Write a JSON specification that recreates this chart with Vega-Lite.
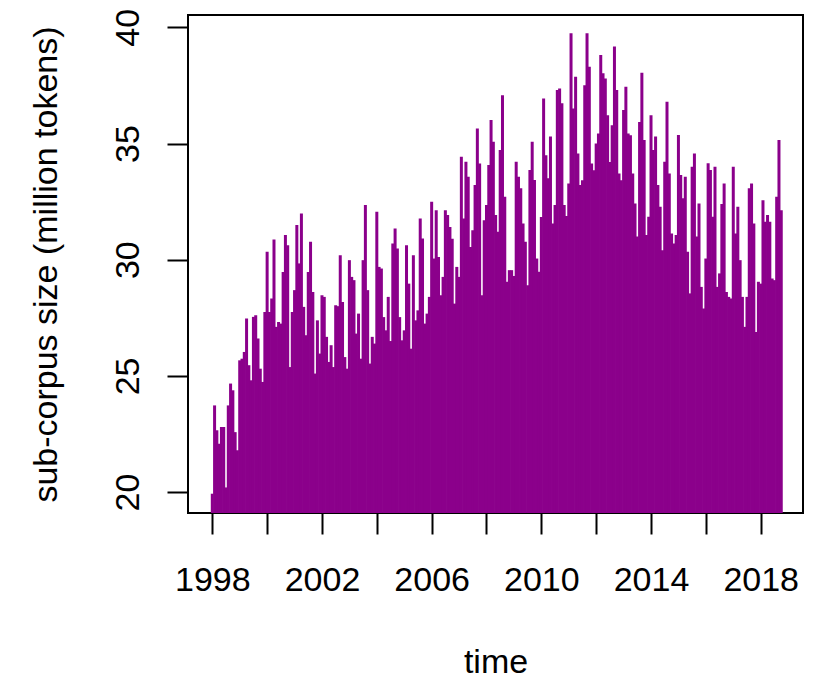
{
  "$schema": "https://vega.github.io/schema/vega-lite/v6.json",
  "width": 615,
  "height": 498,
  "autosize": {"type": "none"},
  "padding": {"left": 188, "top": 15, "right": 22, "bottom": 165},
  "background": "white",
  "config": {
    "font": "Liberation Sans",
    "view": {"stroke": "black", "strokeWidth": 2}
  },
  "data": {
    "values": [
      {"time": 1998.0, "size": 19.93}, {"time": 1998.0833, "size": 23.73}, {"time": 1998.1667, "size": 22.66}, {"time": 1998.25, "size": 22.08},
      {"time": 1998.3333, "size": 22.8}, {"time": 1998.4167, "size": 22.8}, {"time": 1998.5, "size": 20.2}, {"time": 1998.5833, "size": 23.73},
      {"time": 1998.6667, "size": 24.67}, {"time": 1998.75, "size": 24.38}, {"time": 1998.8333, "size": 22.58}, {"time": 1998.9167, "size": 21.8},
      {"time": 1999.0, "size": 25.67}, {"time": 1999.0833, "size": 25.74}, {"time": 1999.1667, "size": 26.03}, {"time": 1999.25, "size": 27.47},
      {"time": 1999.3333, "size": 25.46}, {"time": 1999.4167, "size": 24.81}, {"time": 1999.5, "size": 27.54}, {"time": 1999.5833, "size": 27.61},
      {"time": 1999.6667, "size": 26.61}, {"time": 1999.75, "size": 25.31}, {"time": 1999.8333, "size": 24.74}, {"time": 1999.9167, "size": 27.75},
      {"time": 2000.0, "size": 30.34}, {"time": 2000.0833, "size": 27.75}, {"time": 2000.1667, "size": 28.33}, {"time": 2000.25, "size": 30.87},
      {"time": 2000.3333, "size": 27.11}, {"time": 2000.4167, "size": 27.32}, {"time": 2000.5, "size": 27.25}, {"time": 2000.5833, "size": 29.47},
      {"time": 2000.6667, "size": 31.06}, {"time": 2000.75, "size": 30.62}, {"time": 2000.8333, "size": 25.38}, {"time": 2000.9167, "size": 27.75},
      {"time": 2001.0, "size": 28.69}, {"time": 2001.0833, "size": 31.49}, {"time": 2001.1667, "size": 29.84}, {"time": 2001.25, "size": 31.99},
      {"time": 2001.3333, "size": 27.97}, {"time": 2001.4167, "size": 26.75}, {"time": 2001.5, "size": 29.47}, {"time": 2001.5833, "size": 30.77},
      {"time": 2001.6667, "size": 28.61}, {"time": 2001.75, "size": 25.1}, {"time": 2001.8333, "size": 27.39}, {"time": 2001.9167, "size": 25.96},
      {"time": 2002.0, "size": 28.47}, {"time": 2002.0833, "size": 28.4}, {"time": 2002.1667, "size": 26.68}, {"time": 2002.25, "size": 25.6},
      {"time": 2002.3333, "size": 26.32}, {"time": 2002.4167, "size": 25.38}, {"time": 2002.5, "size": 28.04}, {"time": 2002.5833, "size": 28.0},
      {"time": 2002.6667, "size": 30.19}, {"time": 2002.75, "size": 28.18}, {"time": 2002.8333, "size": 25.81}, {"time": 2002.9167, "size": 25.31},
      {"time": 2003.0, "size": 29.98}, {"time": 2003.0833, "size": 29.26}, {"time": 2003.1667, "size": 29.12}, {"time": 2003.25, "size": 26.82},
      {"time": 2003.3333, "size": 27.68}, {"time": 2003.4167, "size": 25.74}, {"time": 2003.5, "size": 29.98}, {"time": 2003.5833, "size": 32.35},
      {"time": 2003.6667, "size": 28.69}, {"time": 2003.75, "size": 25.53}, {"time": 2003.8333, "size": 26.68}, {"time": 2003.9167, "size": 26.39},
      {"time": 2004.0, "size": 32.06}, {"time": 2004.0833, "size": 29.69}, {"time": 2004.1667, "size": 29.62}, {"time": 2004.25, "size": 27.53},
      {"time": 2004.3333, "size": 26.96}, {"time": 2004.4167, "size": 28.4}, {"time": 2004.5, "size": 26.5}, {"time": 2004.5833, "size": 30.7},
      {"time": 2004.6667, "size": 31.34}, {"time": 2004.75, "size": 30.48}, {"time": 2004.8333, "size": 27.53}, {"time": 2004.9167, "size": 26.53},
      {"time": 2005.0, "size": 26.96}, {"time": 2005.0833, "size": 30.62}, {"time": 2005.1667, "size": 28.97}, {"time": 2005.25, "size": 26.17},
      {"time": 2005.3333, "size": 30.19}, {"time": 2005.4167, "size": 27.39}, {"time": 2005.5, "size": 27.82}, {"time": 2005.5833, "size": 31.77},
      {"time": 2005.6667, "size": 30.91}, {"time": 2005.75, "size": 27.25}, {"time": 2005.8333, "size": 27.68}, {"time": 2005.9167, "size": 28.4},
      {"time": 2006.0, "size": 32.49}, {"time": 2006.0833, "size": 30.05}, {"time": 2006.1667, "size": 32.13}, {"time": 2006.25, "size": 30.12},
      {"time": 2006.3333, "size": 28.47}, {"time": 2006.4167, "size": 29.26}, {"time": 2006.5, "size": 32.13}, {"time": 2006.5833, "size": 31.92},
      {"time": 2006.6667, "size": 31.41}, {"time": 2006.75, "size": 30.9}, {"time": 2006.8333, "size": 28.11}, {"time": 2006.9167, "size": 29.69},
      {"time": 2007.0, "size": 29.26}, {"time": 2007.0833, "size": 34.43}, {"time": 2007.1667, "size": 31.77}, {"time": 2007.25, "size": 34.21},
      {"time": 2007.3333, "size": 33.57}, {"time": 2007.4167, "size": 30.55}, {"time": 2007.5, "size": 31.27}, {"time": 2007.5833, "size": 33.21},
      {"time": 2007.6667, "size": 35.65}, {"time": 2007.75, "size": 34.14}, {"time": 2007.8333, "size": 28.47}, {"time": 2007.9167, "size": 31.7},
      {"time": 2008.0, "size": 32.35}, {"time": 2008.0833, "size": 34.07}, {"time": 2008.1667, "size": 36.01}, {"time": 2008.25, "size": 35.08},
      {"time": 2008.3333, "size": 31.92}, {"time": 2008.4167, "size": 31.2}, {"time": 2008.5, "size": 34.72}, {"time": 2008.5833, "size": 37.08},
      {"time": 2008.6667, "size": 32.71}, {"time": 2008.75, "size": 29.05}, {"time": 2008.8333, "size": 29.55}, {"time": 2008.9167, "size": 29.55},
      {"time": 2009.0, "size": 29.3}, {"time": 2009.0833, "size": 34.22}, {"time": 2009.1667, "size": 33.57}, {"time": 2009.25, "size": 33.07},
      {"time": 2009.3333, "size": 31.56}, {"time": 2009.4167, "size": 30.77}, {"time": 2009.5, "size": 28.9}, {"time": 2009.5833, "size": 33.86},
      {"time": 2009.6667, "size": 35.08}, {"time": 2009.75, "size": 33.43}, {"time": 2009.8333, "size": 30.05}, {"time": 2009.9167, "size": 29.48},
      {"time": 2010.0, "size": 31.84}, {"time": 2010.0833, "size": 36.94}, {"time": 2010.1667, "size": 34.5}, {"time": 2010.25, "size": 33.5},
      {"time": 2010.3333, "size": 35.3}, {"time": 2010.4167, "size": 31.56}, {"time": 2010.5, "size": 32.35}, {"time": 2010.5833, "size": 37.3},
      {"time": 2010.6667, "size": 37.37}, {"time": 2010.75, "size": 36.73}, {"time": 2010.8333, "size": 32.35}, {"time": 2010.9167, "size": 31.88},
      {"time": 2011.0, "size": 33.28}, {"time": 2011.0833, "size": 39.74}, {"time": 2011.1667, "size": 36.51}, {"time": 2011.25, "size": 37.87},
      {"time": 2011.3333, "size": 34.57}, {"time": 2011.4167, "size": 33.21}, {"time": 2011.5, "size": 33.42}, {"time": 2011.5833, "size": 37.51},
      {"time": 2011.6667, "size": 39.74}, {"time": 2011.75, "size": 38.3}, {"time": 2011.8333, "size": 34.14}, {"time": 2011.9167, "size": 33.85},
      {"time": 2012.0, "size": 35.0}, {"time": 2012.0833, "size": 35.43}, {"time": 2012.1667, "size": 38.81}, {"time": 2012.25, "size": 38.02},
      {"time": 2012.3333, "size": 37.8}, {"time": 2012.4167, "size": 36.22}, {"time": 2012.5, "size": 34.2}, {"time": 2012.5833, "size": 35.79},
      {"time": 2012.6667, "size": 39.17}, {"time": 2012.75, "size": 37.3}, {"time": 2012.8333, "size": 33.71}, {"time": 2012.9167, "size": 33.42},
      {"time": 2013.0, "size": 36.44}, {"time": 2013.0833, "size": 37.44}, {"time": 2013.1667, "size": 35.43}, {"time": 2013.25, "size": 35.36},
      {"time": 2013.3333, "size": 33.71}, {"time": 2013.4167, "size": 32.42}, {"time": 2013.5, "size": 31.0}, {"time": 2013.5833, "size": 35.93},
      {"time": 2013.6667, "size": 38.05}, {"time": 2013.75, "size": 35.15}, {"time": 2013.8333, "size": 31.06}, {"time": 2013.9167, "size": 31.85},
      {"time": 2014.0, "size": 36.22}, {"time": 2014.0833, "size": 34.72}, {"time": 2014.1667, "size": 35.3}, {"time": 2014.25, "size": 33.21},
      {"time": 2014.3333, "size": 32.28}, {"time": 2014.4167, "size": 30.41}, {"time": 2014.5, "size": 34.22}, {"time": 2014.5833, "size": 36.8},
      {"time": 2014.6667, "size": 33.71}, {"time": 2014.75, "size": 31.13}, {"time": 2014.8333, "size": 30.7}, {"time": 2014.9167, "size": 31.06},
      {"time": 2015.0, "size": 35.37}, {"time": 2015.0833, "size": 33.64}, {"time": 2015.1667, "size": 32.64}, {"time": 2015.25, "size": 33.57},
      {"time": 2015.3333, "size": 30.34}, {"time": 2015.4167, "size": 28.55}, {"time": 2015.5, "size": 34.0}, {"time": 2015.5833, "size": 34.57},
      {"time": 2015.6667, "size": 31.0}, {"time": 2015.75, "size": 32.42}, {"time": 2015.8333, "size": 28.83}, {"time": 2015.9167, "size": 27.9},
      {"time": 2016.0, "size": 30.05}, {"time": 2016.0833, "size": 34.15}, {"time": 2016.1667, "size": 33.86}, {"time": 2016.25, "size": 31.85},
      {"time": 2016.3333, "size": 34.0}, {"time": 2016.4167, "size": 28.83}, {"time": 2016.5, "size": 29.41}, {"time": 2016.5833, "size": 32.4},
      {"time": 2016.6667, "size": 33.28}, {"time": 2016.75, "size": 28.61}, {"time": 2016.8333, "size": 28.4}, {"time": 2016.9167, "size": 28.33},
      {"time": 2017.0, "size": 34.0}, {"time": 2017.0833, "size": 31.13}, {"time": 2017.1667, "size": 32.28}, {"time": 2017.25, "size": 29.98},
      {"time": 2017.3333, "size": 28.4}, {"time": 2017.4167, "size": 27.11}, {"time": 2017.5, "size": 28.4}, {"time": 2017.5833, "size": 33.07},
      {"time": 2017.6667, "size": 33.28}, {"time": 2017.75, "size": 31.56}, {"time": 2017.8333, "size": 26.89}, {"time": 2017.9167, "size": 29.05},
      {"time": 2018.0, "size": 28.97}, {"time": 2018.0833, "size": 32.56}, {"time": 2018.1667, "size": 31.63}, {"time": 2018.25, "size": 31.92},
      {"time": 2018.3333, "size": 31.63}, {"time": 2018.4167, "size": 29.19}, {"time": 2018.5, "size": 29.12}, {"time": 2018.5833, "size": 32.71},
      {"time": 2018.6667, "size": 35.15}, {"time": 2018.75, "size": 32.13}
    ]
  },
  "mark": {"type": "rule", "color": "#8B008B", "strokeWidth": 3, "clip": true},
  "encoding": {
    "x": {
      "field": "time",
      "type": "quantitative",
      "scale": {"domain": [1997.114, 2019.543], "nice": false, "zero": false},
      "axis": {
        "values": [1998, 2000, 2002, 2004, 2006, 2008, 2010, 2012, 2014, 2016, 2018],
        "format": "d",
        "labelExpr": "datum.value % 4 === 2 ? datum.label : ''",
        "grid": false,
        "domain": false,
        "ticks": true,
        "tickSize": 21,
        "tickWidth": 2,
        "tickColor": "black",
        "labelFontSize": 34,
        "labelColor": "black",
        "labelBaseline": "alphabetic",
        "labelPadding": 56,
        "labelFlush": false,
        "labelOverlap": false,
        "title": "time",
        "titleFontSize": 34,
        "titleFontWeight": "normal",
        "titleColor": "black",
        "titleBaseline": "alphabetic",
        "titleY": 159
      }
    },
    "y": {
      "field": "size",
      "type": "quantitative",
      "scale": {"domain": [19.1, 40.53], "nice": false, "zero": false},
      "axis": {
        "values": [20, 25, 30, 35, 40],
        "grid": false,
        "domain": false,
        "tickSize": 21,
        "tickWidth": 2,
        "tickColor": "black",
        "labelFontSize": 34,
        "labelColor": "black",
        "labelAngle": 270,
        "labelAlign": "center",
        "labelBaseline": "alphabetic",
        "labelPadding": 29,
        "labelOverlap": false,
        "title": "sub-corpus size (million tokens)",
        "titleFontSize": 34,
        "titleFontWeight": "normal",
        "titleColor": "black",
        "titleAngle": 270,
        "titleAlign": "center",
        "titleBaseline": "alphabetic",
        "titleX": -132,
        "titleY": 249
      }
    },
    "y2": {"datum": 19.1}
  }
}
